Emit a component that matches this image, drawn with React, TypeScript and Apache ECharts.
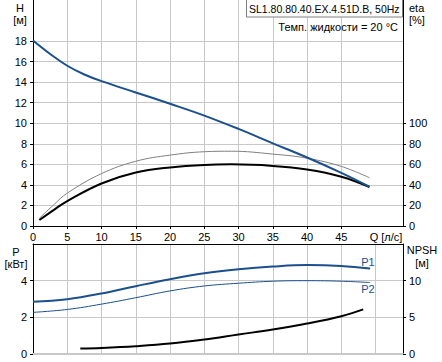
import React, { useEffect, useRef } from "react";
import * as echarts from "echarts";

const FONT = "Liberation Sans";
const BLUE = "#1b4f8e";

const qTicks = [0, 5, 10, 15, 20, 25, 30, 35, 40, 45];
const hTicks = [0, 2, 4, 6, 8, 10, 12, 14, 16, 18];
const etaTicks = [0, 20, 40, 60, 80, 100];
const pTicks = [0, 2, 4];
const npshTicks = [0, 5, 10];

const headQ = [0, 2.5, 5, 7.5, 10, 15, 20, 25, 30, 35, 40, 45, 49.1];
const headH = [18.06, 16.75, 15.6, 14.75, 14.1, 13.0, 11.9, 10.75, 9.45, 8.05, 6.67, 5.17, 3.82];

const etaQ = [0.93, 3, 5, 10, 15, 20, 25, 29, 35, 40, 45, 49.1];
const etaTotal = [5.8, 15.5, 24.3, 41.4, 52, 57, 59.5, 60, 58.5, 55, 48, 38];
const etaPump = [7.5, 20.5, 32, 51, 63, 69, 72.3, 72.8, 70, 66, 58, 47];

const powerQ = [0, 5, 10, 15, 20, 25, 30, 35, 40, 45, 49.2];
const powerP1 = [2.85, 2.99, 3.3, 3.7, 4.08, 4.4, 4.62, 4.77, 4.85, 4.8, 4.66];
const powerP2 = [2.27, 2.43, 2.72, 3.07, 3.44, 3.71, 3.86, 3.97, 4.0, 3.97, 3.9];

const npshQ = [6.9, 10, 15, 20, 25, 30, 35, 40, 45, 48.2];
const npshV = [0.74, 0.83, 1.07, 1.42, 1.97, 2.66, 3.34, 4.16, 5.16, 6.08];

const zip = (xs: number[], ys: number[]) => xs.map((x, i) => [x, ys[i]]);

export default function App() {
  const ref = useRef<HTMLDivElement>(null);
  useEffect(() => {
    if (!ref.current) return;
    const chart = echarts.init(ref.current, undefined, { renderer: "svg" });
    const gridLine = { show: true, lineStyle: { color: "#c8c8c8", width: 1 } };
    const lbl = { color: "#000", fontSize: 11, fontFamily: FONT };
    const txt = (x: number, y: number, text: string, align = "center", fill = "#000", size = 11) => ({
      type: "text",
      x,
      y,
      style: { text, fill, font: `${size}px "${FONT}"`, textAlign: align, textVerticalAlign: "middle" },
      z: 100,
    });
    const line = (xi: number, yi: number, data: number[][], color: string, width: number) => ({
      type: "line", xAxisIndex: xi, yAxisIndex: yi, data, smooth: 0.4,
      showSymbol: false, lineStyle: { color, width },
    });
    chart.setOption({
      animation: false,
      backgroundColor: "#fff",
      grid: [
        { left: 33, right: 39, top: 0, height: 226, outerBoundsMode: "none" },
        { left: 33, right: 39, top: 244, height: 110, outerBoundsMode: "none" },
      ],
      xAxis: [
        {
          type: "value", gridIndex: 0, min: 0, max: 54, interval: 5,
          axisLine: { show: true, onZero: false, lineStyle: { color: "#000" } },
          axisTick: { show: true, length: 3, customValues: qTicks, lineStyle: { color: "#000" } },
          axisLabel: { ...lbl, margin: 5, customValues: qTicks },
          splitLine: gridLine,
        },
        {
          type: "value", gridIndex: 1, min: 0, max: 54, interval: 5,
          axisLine: { show: true, onZero: false, lineStyle: { color: "#c8c8c8", width: 2 } },
          axisTick: { show: false },
          axisLabel: { show: false },
          splitLine: gridLine,
        },
        {
          type: "value", gridIndex: 1, min: 0, max: 54, position: "top",
          axisLine: { show: true, onZero: false, lineStyle: { color: "#000" } },
          axisTick: { show: false }, axisLabel: { show: false }, splitLine: { show: false },
        },
      ],
      yAxis: [
        {
          type: "value", gridIndex: 0, min: 0, max: 22, interval: 2,
          axisLine: { show: true, onZero: false, lineStyle: { color: "#000" } },
          axisTick: { show: true, length: 3, customValues: hTicks, lineStyle: { color: "#000" } },
          axisLabel: { ...lbl, margin: 6, customValues: hTicks },
          splitLine: gridLine,
        },
        {
          type: "value", gridIndex: 0, min: 0, max: 220, interval: 20, position: "right",
          axisLine: { show: true, onZero: false, lineStyle: { color: "#000" } },
          axisTick: { show: true, length: 3, customValues: etaTicks, lineStyle: { color: "#000" } },
          axisLabel: { ...lbl, margin: 6, customValues: etaTicks },
          splitLine: { show: false },
        },
        {
          type: "value", gridIndex: 1, min: 0, max: 6, interval: 2,
          axisLine: { show: true, onZero: false, lineStyle: { color: "#000" } },
          axisTick: { show: true, length: 3, customValues: pTicks, lineStyle: { color: "#000" } },
          axisLabel: { ...lbl, margin: 6, customValues: pTicks },
          splitLine: gridLine,
        },
        {
          type: "value", gridIndex: 1, min: 0, max: 15, interval: 5, position: "right",
          axisLine: { show: true, onZero: false, lineStyle: { color: "#000" } },
          axisTick: { show: true, length: 3, customValues: npshTicks, lineStyle: { color: "#000" } },
          axisLabel: { ...lbl, margin: 6, customValues: npshTicks },
          splitLine: { show: false },
        },
      ],
      series: [
        line(0, 1, zip(etaQ, etaPump), "#808080", 1),
        line(0, 1, zip(etaQ, etaTotal), "#000", 2),
        line(0, 0, zip(headQ, headH), BLUE, 2),
        line(1, 2, zip(powerQ, powerP1), BLUE, 2),
        line(1, 2, zip(powerQ, powerP2), BLUE, 1),
        line(1, 3, zip(npshQ, npshV), "#000", 2),
      ],
      graphic: [
        { type: "rect", shape: { x: 246.5, y: -1, width: 156, height: 18 }, style: { fill: "#fff", stroke: "#808080", lineWidth: 1 }, z: 99 },
        txt(249, 9, "SL1.80.80.40.EX.4.51D.B, 50Hz", "left", "#000", 10.5),
        txt(398, 27, "Темп. жидкости = 20 °C", "right"),
        txt(20, 8, "H"),
        txt(20, 20, "[м]"),
        txt(409, 8, "eta", "left"),
        txt(409, 20, "[%]", "left"),
        txt(386, 237, "Q [л/с]"),
        txt(16, 252, "P"),
        txt(16, 264, "[кВт]"),
        txt(422, 250, "NPSH"),
        txt(422, 263, "[м]"),
        txt(368, 262, "P1", "center", BLUE),
        txt(368, 289, "P2", "center", BLUE),
      ],
    });
    return () => chart.dispose();
  }, []);
  return <div ref={ref} style={{ position: "fixed", left: 0, top: 0, width: 442, height: 362 }} />;
}
